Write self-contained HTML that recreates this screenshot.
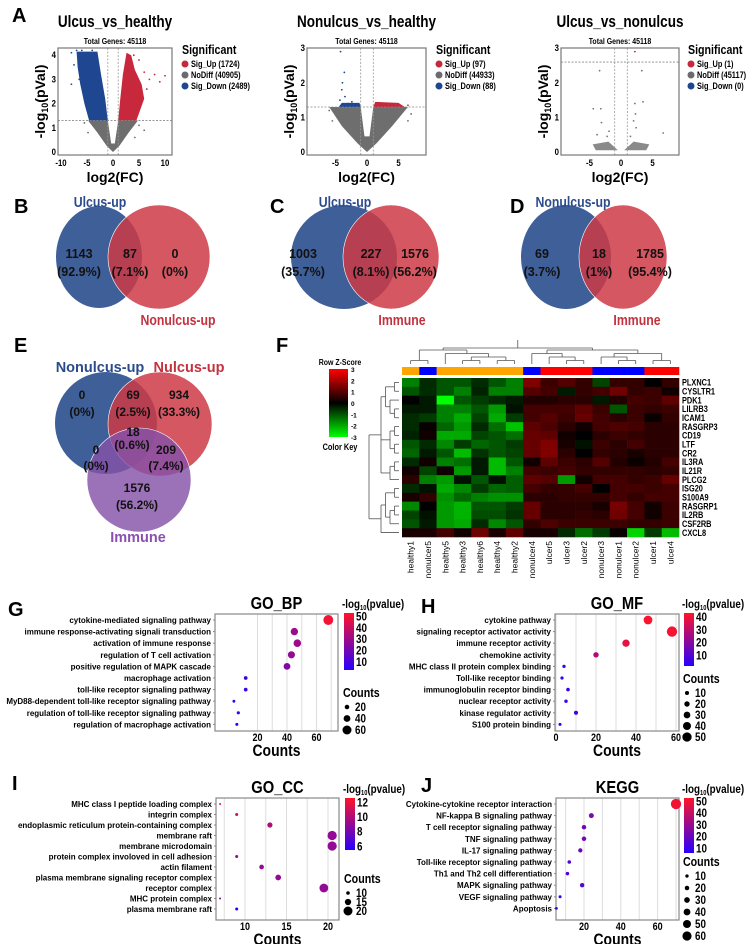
<!DOCTYPE html>
<html><head><meta charset="utf-8">
<style>
html,body{margin:0;padding:0;background:#fff;}
svg{display:block;font-family:"Liberation Sans",sans-serif;}
.b{font-weight:bold;}
.n{font-family:"Liberation Sans",sans-serif;font-weight:bold;}
</style></head>
<body>
<svg id="fig" width="751" height="944" viewBox="0 0 751 944" xmlns="http://www.w3.org/2000/svg">
<g class="b" font-size="20">
<text x="12" y="22">A</text>
<text x="14" y="213">B</text>
<text x="270" y="213">C</text>
<text x="510" y="213">D</text>
<text x="14" y="352">E</text>
<text x="276" y="352">F</text>
<text x="8" y="616">G</text>
<text x="421" y="613">H</text>
<text x="12" y="790">I</text>
<text x="421" y="792">J</text>
</g>

<g>
<ellipse cx="99" cy="257" rx="43" ry="51" fill="#3f5f98"/>
<ellipse cx="159" cy="257" rx="51" ry="52" fill="#cc3a45" fill-opacity="0.85" stroke="#fff" stroke-width="0.6"/>
<text x="100" y="207" text-anchor="middle" class="n" font-size="15" fill="#2b4b8c">Ulcus-up</text>
<text x="178" y="325" text-anchor="middle" class="n" font-size="15" fill="#c2323f">Nonulcus-up</text>
<g class="n" font-size="12.5" text-anchor="middle" fill="#111">
<text x="79" y="258">1143</text><text x="79" y="276">(92.9%)</text>
<text x="130" y="258">87</text><text x="130" y="276">(7.1%)</text>
<text x="175" y="258">0</text><text x="175" y="276">(0%)</text>
</g></g>

<g>
<ellipse cx="344" cy="257" rx="53" ry="52" fill="#3f5f98"/>
<ellipse cx="391" cy="257" rx="48" ry="52" fill="#cc3a45" fill-opacity="0.85" stroke="#fff" stroke-width="0.6"/>
<text x="345" y="207" text-anchor="middle" class="n" font-size="15" fill="#2b4b8c">Ulcus-up</text>
<text x="402" y="325" text-anchor="middle" class="n" font-size="15" fill="#c2323f">Immune</text>
<g class="n" font-size="12.5" text-anchor="middle" fill="#111">
<text x="303" y="258">1003</text><text x="303" y="276">(35.7%)</text>
<text x="371" y="258">227</text><text x="371" y="276">(8.1%)</text>
<text x="415" y="258">1576</text><text x="415" y="276">(56.2%)</text>
</g></g>

<g>
<ellipse cx="566" cy="257" rx="45" ry="52" fill="#3f5f98"/>
<ellipse cx="623" cy="257" rx="44" ry="52" fill="#cc3a45" fill-opacity="0.85" stroke="#fff" stroke-width="0.6"/>
<text x="573" y="207" text-anchor="middle" class="n" font-size="15" fill="#2b4b8c">Nonulcus-up</text>
<text x="637" y="325" text-anchor="middle" class="n" font-size="15" fill="#c2323f">Immune</text>
<g class="n" font-size="12.5" text-anchor="middle" fill="#111">
<text x="542" y="258">69</text><text x="542" y="276">(3.7%)</text>
<text x="599" y="258">18</text><text x="599" y="276">(1%)</text>
<text x="650" y="258">1785</text><text x="650" y="276">(95.4%)</text>
</g></g>

<g>
<circle cx="106" cy="423" r="51" fill="#3f5f98"/>
<circle cx="160" cy="424" r="52" fill="#cc3a45" fill-opacity="0.85" stroke="#fff" stroke-width="0.6"/>
<circle cx="139" cy="480" r="52" fill="#8552a8" fill-opacity="0.82" stroke="#fff" stroke-width="0.6"/>
<text x="100" y="372" text-anchor="middle" class="b" font-size="14.5" fill="#2b4b8c">Nonulcus-up</text>
<text x="189" y="372" text-anchor="middle" class="b" font-size="14.5" fill="#c2323f">Nulcus-up</text>
<text x="138" y="542" text-anchor="middle" class="b" font-size="14.5" fill="#8a4fb0">Immune</text>
<g class="b" font-size="12" text-anchor="middle" fill="#111">
<text x="82" y="399">0</text><text x="82" y="416">(0%)</text>
<text x="133" y="399">69</text><text x="133" y="416">(2.5%)</text>
<text x="179" y="399">934</text><text x="179" y="416">(33.3%)</text>
<text x="133" y="436">18</text><text x="132" y="449">(0.6%)</text>
<text x="166" y="454">209</text><text x="166" y="470">(7.4%)</text>
<text x="96" y="454">0</text><text x="96" y="470">(0%)</text>
<text x="137" y="492">1576</text><text x="137" y="509">(56.2%)</text>
</g></g>

<g id="volc"></g>
<g id="heat"></g>
<g id="dots"></g>
</svg>

<script>
const NS="http://www.w3.org/2000/svg";
function mk(parent,tag,attrs,txt){const e=document.createElementNS(NS,tag);for(const k in attrs)e.setAttribute(k,attrs[k]);if(txt!==undefined)e.textContent=txt;parent.appendChild(e);return e;}

/* ================= Volcano data ================= */
const volcTitles=["Ulcus_vs_healthy","Nonulcus_vs_healthy","Ulcus_vs_nonulcus"];
const volcLegendCounts=[["Sig_Up (1724)","NoDiff (40905)","Sig_Down (2489)"],["Sig_Up (97)","NoDiff (44933)","Sig_Down (88)"],["Sig_Up (1)","NoDiff (45117)","Sig_Down (0)"]];
const volcXTicks=[[-10,-5,0,5,10],[-5,0,5],[-5,0,5]];
const volcYTicks=[[0,1,2,3,4],[0,1,2,3],[0,1,2,3]];
const volcThreshold=[1.3,1.3,2.6];
const volc1Up=[[6,3.3],[8,3.2],[10,3.15],[5,3.8],[4,4.0],[7,3.0],[9,2.9],[6.5,2.6],[5.5,2.2]];
const volc1Down=[[-7,4.2],[-6,4.2],[-8,4.1],[-4,4.2],[-7.5,3.6],[-6.5,3.0],[-8,2.8]];
const volc1Gray=[[-5.5,1.2],[5,1.1],[6,0.9],[-4.8,0.8],[4.2,0.6]];
const volc2Down=[[-4.2,2.9],[-3.6,2.3],[-3.9,2.0],[-4,1.8],[-3.5,1.6],[-4.3,1.5],[-2.4,1.45],[-3,1.4]];
const volc2Up=[[3.2,1.4],[4.5,1.35],[6.5,1.35],[2.5,1.38],[5.5,1.32]];
const volc2Gray=[[-6,1.2],[7,1.1],[6.5,0.9],[-5.5,0.9]];
const volc3Up=[[2.2,2.9]];
const volc3Gray=[[-3.4,2.35],[3.3,2.35],[-4.4,1.25],[-3.2,1.25],[3.5,1.45],[2.2,1.4],[2.3,1.1],[2.0,0.9],[-3.1,0.85],[2.4,0.7],[6.7,0.55],[-1.9,0.6],[-2.2,0.45],[1.5,0.45],[-3.8,0.5]];

const volc=document.getElementById('volc');
const vcfg=[
 {L:58,R:172,T:48,B:155,x0:113,xs:5.2,y0:152,ys:24.2,lx:182},
 {L:307,R:426,T:48,B:155,x0:367,xs:6.3,y0:152,ys:34.6,lx:436},
 {L:561,R:679,T:48,B:155,x0:621,xs:6.3,y0:152,ys:34.6,lx:688}
];
function pts(pg,arr,X,Y,col){arr.forEach(p=>{const d=mk(pg,'circle',{cx:X(p[0]),cy:Y(p[1]),r:0.9,fill:col});
 
 });}
vcfg.forEach((c,i)=>{
 const g=mk(volc,'g',{});
 
 
 const X=v=>c.x0+v*c.xs, Y=v=>c.y0-v*c.ys;
 const t=mk(g,'text',{x:(c.L+c.R)/2,y:27,'text-anchor':'middle','font-size':16.5,class:'n'},volcTitles[i]);
 
 
 mk(g,'text',{x:(c.L+c.R)/2,y:44,'text-anchor':'middle','font-size':8.5,class:'n'},'Total Genes: 45118');
 const cp='clip'+i;const cl=mk(g,'clipPath',{id:cp});mk(cl,'rect',{x:c.L,y:c.T,width:c.R-c.L,height:c.B-c.T});
 const pg=mk(g,'g',{'clip-path':'url(#'+cp+')'});
 const th=volcThreshold[i];
 const P=a=>'M'+a.map(p=>X(p[0])+','+Y(p[1])).join(' L')+' Z';
 if(i===0){
  mk(pg,'path',{d:P([[-4.8,1.3],[-1,1.3],[-0.35,0.35],[0.35,0.35],[1,1.3],[4.8,1.3],[3,0.8],[1.2,0.25],[0,0],[-1.2,0.25],[-3,0.8]]),fill:'#6e6e6e'});
  mk(pg,'path',{d:P([[-1,1.3],[-1.5,2.2],[-2.3,3.2],[-3,4.15],[-7,4.15],[-6.8,3.5],[-6.3,2.8],[-5.5,2],[-4.6,1.3]]),fill:'#1f4690'});
  mk(pg,'path',{d:P([[1,1.3],[1.4,2.2],[1.9,3.2],[2.6,4.1],[3.5,4.0],[4.2,3.4],[5.5,2.8],[6,2.2],[4.5,1.3]]),fill:'#c8283c'});
  pts(pg,volc1Up,X,Y,'#c8283c');pts(pg,volc1Down,X,Y,'#1f4690');pts(pg,volc1Gray,X,Y,'#6e6e6e');
 } else if(i===1){
  mk(pg,'path',{d:P([[-6,1.3],[-1,1.3],[-0.4,0.45],[0.4,0.45],[1,1.3],[6.5,1.3],[4,0.75],[1.5,0.25],[0,0],[-1.5,0.25],[-4,0.75]]),fill:'#6e6e6e'});
  mk(pg,'path',{d:P([[-4.5,1.3],[-4,1.42],[-1.2,1.42],[-1,1.3]]),fill:'#1f4690'});
  mk(pg,'path',{d:P([[1,1.3],[1.3,1.45],[5,1.42],[6,1.3]]),fill:'#c8283c'});
  pts(pg,volc2Down,X,Y,'#1f4690');pts(pg,volc2Up,X,Y,'#c8283c');pts(pg,volc2Gray,X,Y,'#6e6e6e');
 } else {
  mk(pg,'path',{d:P([[-4.5,0.22],[-2,0.3],[-0.5,0.05],[0.5,0.05],[2,0.3],[4.5,0.22],[4,0.05],[-4,0.05]]),fill:'#8a8a8a'});
  pts(pg,volc3Gray,X,Y,'#777');pts(pg,volc3Up,X,Y,'#c8283c');
 }
 mk(g,'line',{x1:c.L,x2:c.R,y1:Y(th),y2:Y(th),stroke:'#888','stroke-dasharray':'2,1.5','stroke-width':0.8});
 [-1,1].forEach(v=>mk(g,'line',{x1:X(v),x2:X(v),y1:c.T,y2:c.B,stroke:'#999','stroke-dasharray':'2,1.5','stroke-width':0.8}));
 mk(g,'rect',{x:c.L,y:c.T,width:c.R-c.L,height:c.B-c.T,fill:'none',stroke:'#777','stroke-width':1.2});
 volcXTicks[i].forEach(v=>{const e=mk(g,'text',{x:X(v),y:166,'text-anchor':'middle','font-size':9.5,class:'n'},String(v));
  
  });
 volcYTicks[i].forEach(v=>{const e=mk(g,'text',{x:c.L-2,y:Y(v)+3,'text-anchor':'end','font-size':9.5,class:'n'},String(v));
  
  });
 const xl=mk(g,'text',{x:(c.L+c.R)/2,y:182,'text-anchor':'middle','font-size':14,class:'b'},'log2(FC)');
 
 
 const yl=mk(g,'text',{x:0,y:0,transform:`translate(${c.L-13},${(c.T+c.B)/2}) rotate(-90)`,'text-anchor':'middle','font-size':14,class:'b'});
 
 
 yl.innerHTML='-log<tspan font-size="9" dy="3">10</tspan><tspan dy="-3">(pVal)</tspan>';
 const lg=mk(g,'g',{});
 
 
 mk(lg,'text',{x:c.lx,y:54,'font-size':13,class:'n'},'Significant');
 const cols=['#c8283c','#6b6b6b','#1f4690'];
 volcLegendCounts[i].forEach((s,k)=>{const yy=64+k*11;
  const dot=mk(lg,'circle',{cx:c.lx+3,cy:yy,r:3.5,fill:cols[k]});
  
  
  const lt=mk(lg,'text',{x:c.lx+9,y:yy+3,'font-size':9,class:'n'},s);
  
  });
});

/* ================= Heatmap data ================= */
const hmGenes=["PLXNC1","CYSLTR1","PDK1","LILRB3","ICAM1","RASGRP3","CD19","LTF","CR2","IL3RA","IL21R","PLCG2","ISG20","S100A9","RASGRP1","IL2RB","CSF2RB","CXCL8"];
const hmSamples=["healthy1","nonulcer5","healthy5","healthy3","healthy6","healthy4","healthy2","nonulcer4","ulcer5","ulcer3","ulcer2","nonulcer3","nonulcer1","nonulcer2","ulcer1","ulcer4"];
const hmGroups=["healthy","nonulcer","healthy","healthy","healthy","healthy","healthy","nonulcer","ulcer","ulcer","ulcer","nonulcer","nonulcer","nonulcer","ulcer","ulcer"];
const hmValues=[
[-1.5,-0.5,-1,-1,-0.5,-1,-1.5,1.5,0.7,1,0.6,-0.8,0.6,0.6,0,0.6],
[-1,-0.5,-1,-1.5,-0.4,-1.5,-1.5,1,0.8,-0.3,0.6,0.8,1.3,0.6,0.7,0.2],
[0,-0.3,-3,-1,-0.7,-0.5,-0.3,0.4,0.4,0.5,0.5,-0.3,0.4,0.8,0.7,1.1],
[-0.3,-0.3,-1.5,-1.5,-1,-1.8,-0.2,0.8,0.8,0.8,1.1,0.7,-1,0.7,0.6,0.7],
[-0.5,-0.7,-1.5,-2,-0.8,-2,-0.7,0.8,1,0.7,1.2,0.8,0.5,0.7,0.1,0.6],
[-0.5,0.1,-1.2,-1.8,-0.5,-1.3,-2.3,1.1,0.9,0.5,0.2,0.8,0.9,0.8,0.5,0.5],
[-0.4,0.2,-2,-2,-0.8,-1,-1.3,1.2,1.1,0.2,0,0.5,0.7,0.6,0.5,0.5],
[-1,-0.5,-1.6,-0.7,-1.2,-1,-0.7,1.2,1.5,0.3,-0.2,0.7,0.5,0.8,0.5,0.5],
[-1.2,-0.3,-1,-2.2,-0.6,-1,-0.8,1.2,1.5,0.5,0,0.6,0.5,0.3,0.5,0.5],
[-0.5,0.2,-1.5,-1.3,-0.3,-2.2,-1,0.2,1.1,0.7,0.5,1,0.4,0.1,0.4,0.8],
[0.2,-0.8,0.2,-1.8,-0.3,-2.2,-1.5,0.8,0.7,0.8,0.6,0.6,0.6,0.6,0.5,0.6],
[0.5,-1.5,-1.8,-0.2,-1,-0.2,-1.1,1.1,1,-1.8,0.2,0.8,0.8,0.6,0.7,1.2],
[-0.5,-0.2,-2,-1.6,-0.7,-1.2,-1.1,0.8,0.6,0.6,0.8,0,0.8,0.8,0.7,0.8],
[0.3,0.6,-1.7,-1.2,-1.5,-1.7,-1.7,0.5,0.5,0.6,0.6,0.6,0.8,0.6,0.8,0.8],
[-1.6,0,-1.8,-2.1,-1,-1,-0.7,1.2,0.5,0.5,0.5,0.3,1.4,0.8,0.2,0.7],
[-0.8,-0.2,-1.8,-2.1,-0.9,-0.9,-0.6,1.2,0.5,0.5,0.6,0.5,1.3,0.8,0.2,0.7],
[-1,-0.3,-1.8,-2,-0.5,-1.6,-1,0.6,0.9,0.7,0.7,0.7,0.7,0.6,0.6,0.7],
[0.3,0.3,0.8,0.2,1.3,0.3,1.1,0.3,0.3,-0.5,-1.3,-0.7,0.1,-2.5,-0.7,-2.2]];
const hmKeyTicks=[3,2,1,0,-1,-2,-3];
const rowTree=[[[[0,1],[2,[3,4]]],[[5,6],[7,8]],[[9,10],11]],[[[12,13],[[14,15],16]],17]];
const colTree=[[[0,1],[2,[[3,4],[5,6]]]],[[7,[8,[9,10]]],[[11,[12,13]],[14,15]]]];

const heat=document.getElementById('heat');
const HL=402,HR=679,HT=378,HB=537;
const cw=(HR-HL)/hmSamples.length, rh=(HB-HT)/hmGenes.length;
function zcol(z){z=Math.max(-3,Math.min(3,z));const v=Math.round(Math.abs(z)/3*255);return z>=0?`rgb(${v},0,0)`:`rgb(0,${v},0)`;}
hmValues.forEach((row,r)=>row.forEach((z,c)=>{
 const e=mk(heat,'rect',{x:HL+c*cw,y:HT+r*rh,width:cw+0.3,height:rh+0.3,fill:zcol(z)});
 
 
}));
const grpCol={healthy:'#ffa500',nonulcer:'#0000ff',ulcer:'#ff0000'};
hmGroups.forEach((g,c)=>{const e=mk(heat,'rect',{x:HL+c*cw,y:367,width:cw+0.3,height:8,fill:grpCol[g]});
 
 });
hmGenes.forEach((g,r)=>{const e=mk(heat,'text',{x:HR+3,y:HT+(r+0.5)*rh+3.2,'font-size':9,class:'n'},g);
 
 });
hmSamples.forEach((s,c)=>{const x=HL+(c+0.5)*cw+3;const e=mk(heat,'text',{transform:`translate(${x},541) rotate(-90)`,'text-anchor':'end','font-size':8.5},s);
 
 });
function depth(t){return Array.isArray(t)?1+Math.max(...t.map(depth)):0;}
function drawTree(t,pos,hfun,orient){
 if(!Array.isArray(t))return {p:pos(t),h:hfun(0)};
 const ch=t.map(x=>drawTree(x,pos,hfun,orient));const h=hfun(depth(t));
 const ps=ch.map(c=>c.p);const pmin=Math.min(...ps),pmax=Math.max(...ps);
 ch.forEach(c=>{ if(orient==='v')mk(heat,'line',{x1:c.p,x2:c.p,y1:c.h,y2:h,stroke:'#555','stroke-width':0.8}); else mk(heat,'line',{y1:c.p,y2:c.p,x1:c.h,x2:h,stroke:'#555','stroke-width':0.8});});
 if(orient==='v')mk(heat,'line',{x1:pmin,x2:pmax,y1:h,y2:h,stroke:'#555','stroke-width':0.8}); else mk(heat,'line',{y1:pmin,y2:pmax,x1:h,x2:h,stroke:'#555','stroke-width':0.8});
 return {p:(pmin+pmax)/2,h:h};
}
const cd=depth(colTree);
const rootC=drawTree(colTree,i=>HL+(i+0.5)*cw,d=>d===cd?348:364-d*3.5,'v');
mk(heat,'line',{x1:rootC.p,x2:rootC.p,y1:340,y2:348,stroke:'#555','stroke-width':0.8});
const rd=depth(rowTree);
drawTree(rowTree,i=>HT+(i+0.5)*rh,d=>d===rd?369:399-d*4.5,'h');
const defs=mk(heat,'defs',{});const lgd=mk(defs,'linearGradient',{id:'zk',x1:0,y1:0,x2:0,y2:1});
mk(lgd,'stop',{offset:'0','stop-color':'#ff0000'});mk(lgd,'stop',{offset:'0.5','stop-color':'#000'});mk(lgd,'stop',{offset:'1','stop-color':'#00ff00'});
const ck=mk(heat,'rect',{x:329,y:369,width:19,height:68,fill:'url(#zk)'});


mk(heat,'text',{x:340,y:365,'text-anchor':'middle','font-size':8.5,class:'n'},'Row Z-Score');
mk(heat,'text',{x:340,y:450,'text-anchor':'middle','font-size':9,class:'n'},'Color Key');
hmKeyTicks.forEach(v=>{const y=369+(3-v)/6*68;const e=mk(heat,'text',{x:351,y:y+3,'font-size':6.5,class:'b'},String(v));
 
 });

/* ================= Enrichment dot plots ================= */
const bpTerms=["cytokine-mediated signaling pathway","immune response-activating signali transduction","activation of immune response","regulation of T cell activation","positive regulation of MAPK cascade","macrophage activation","toll-like receptor signaling pathway","MyD88-dependent toll-like receptor signaling pathway","regulation of toll-like receptor signaling pathway","regulation of macrophage activation"];
const bpCounts=[68,45,47,43,40,12,12,4,7,6];
const bpPval=[50,30,30,28,24,8,8,5,7,6];
const mfTerms=["cytokine pathway","signaling receptor activator activity","immune receptor activity","chemokine activity","MHC class II protein complex binding","Toll-like receptor binding","immunoglobulin receptor binding","nuclear receptor activity","kinase regulator activity","S100 protein binding"];
const mfCounts=[46,58,35,20,4,3,6,5,10,2];
const mfPval=[42,41,38,28,5,4,5,5,7,4];
const ccTerms=["MHC class I peptide loading complex","integrin complex","endoplasmic reticulum protein-containing complex","membrane raft","membrane microdomain","protein complex involoved in cell adhesion","actin filament","plasma membrane signaling receptor complex","receptor complex","MHC protein complex","plasma membrane raft"];
const ccCounts=[7,9,13,20.5,20.5,9,12,14,19.5,7,9];
const ccPval=[12,11,10,9,9,9,9,9,9,8.5,5.5];
const keggTerms=["Cytokine-cytokine receptor interaction","NF-kappa B signaling pathway","T cell receptor signaling pathway","TNF signaling pathway","IL-17 signaling pathway","Toll-like receptor signaling pathway","Th1 and Th2 cell differentiation","MAPK signaling pathway","VEGF signaling pathway","Apoptosis"];
const keggCounts=[70,24,20,20,18,12,11,19,7,5];
const keggPval=[50,25,22,22,20,15,14,15,10,8];
const bpXTicks=[20,40,60], mfXTicks=[0,20,40,60], ccXTicks=[10,15,20], keggXTicks=[20,40,60];
const bpColTicks=[50,40,30,20,10], mfColTicks=[40,30,20,10], ccColTicks=[12,10,8,6], keggColTicks=[50,40,30,20,10];
const bpSizeTicks=[20,40,60], mfSizeTicks=[10,20,30,40,50], ccSizeTicks=[10,15,20], keggSizeTicks=[10,20,30,40,50,60];

const dots=document.getElementById('dots');
function pcol(t){t=Math.max(0,Math.min(1,t));const r=Math.round(40+215*t),b=Math.round(255-215*t);return `rgb(${r},${Math.round(20*t)},${b})`;}
function dotPlot(o){
 const g=mk(dots,'g',{});
 
 
 const X=v=>o.x0+(v-o.v0)*o.xs;
 const Y=i=>o.r0+i*o.rs;
 const C=v=>pcol((v-o.cmin)/(o.cmax-o.cmin));
 const R=c=>Math.max(1,o.ra+c*o.rb);
 const tt=mk(g,'text',{x:(o.L+o.R)/2,y:o.T-5,'text-anchor':'middle','font-size':18,class:'n'},o.title);
 
 
 o.xticks.forEach(v=>{mk(g,'line',{x1:X(v),x2:X(v),y1:o.T,y2:o.B,stroke:'#ddd','stroke-width':1});
  const e=mk(g,'text',{x:X(v),y:o.B+10,'text-anchor':'middle','font-size':11,class:'n'},String(v));
  
  });
 if(o.midlines)o.midlines.forEach(v=>mk(g,'line',{x1:X(v),x2:X(v),y1:o.T,y2:o.B,stroke:'#ddd','stroke-width':1}));
 mk(g,'rect',{x:o.L,y:o.T,width:o.R-o.L,height:o.B-o.T,fill:'none',stroke:'#888','stroke-width':1.2});
 o.terms.forEach((t,i)=>{const e=mk(g,'text',{x:o.L-4,y:Y(i)+3,'text-anchor':'end','font-size':8.6,class:'n',sx:'0.93'},t);
  
  
  mk(g,'line',{x1:o.L-2,x2:o.L,y1:Y(i),y2:Y(i),stroke:'#888'});});
 o.counts.forEach((c,i)=>{const d=mk(g,'circle',{cx:X(c),cy:Y(i),r:R(c),fill:C(o.pvals[i])});
  
  });
 const xt=mk(g,'text',{x:(o.L+o.R)/2,y:o.B+25,'text-anchor':'middle','font-size':17,class:'n'},'Counts');
 
 
 const gid='cg'+o.name;const gd=mk(g,'linearGradient',{id:gid,x1:0,y1:0,x2:0,y2:1});
 mk(gd,'stop',{offset:0,'stop-color':pcol(1)});mk(gd,'stop',{offset:1,'stop-color':pcol(0)});
 const cb=mk(g,'rect',{x:o.cbx,y:o.cbT,width:10,height:o.cbB-o.cbT,fill:`url(#${gid})`});
 
 
 const CY=v=>o.cbT+(o.cmax-v)/(o.cmax-o.cmin)*(o.cbB-o.cbT);
 o.colTicks.forEach(v=>{const e=mk(g,'text',{x:o.cbx+12,y:CY(v)+4,'font-size':12,class:'n'},String(v));
  
  });
 const lt=mk(g,'text',{x:o.cbx-2,y:o.cbT-5,'font-size':12,class:'n'});
 lt.innerHTML='-log<tspan font-size="7" dy="2">10</tspan><tspan dy="-2">(pvalue)</tspan>';
 
 
 mk(g,'text',{x:o.cbx-1,y:o.sT,'font-size':13,class:'n'},'Counts');
 o.sizeTicks.forEach((v,k)=>{const y=o.sT+10+k*o.sStep;
  const d=mk(g,'circle',{cx:o.cbx+3,cy:y,r:R(v),fill:'#000'});
  
  
  const e=mk(g,'text',{x:o.cbx+11,y:y+4,'font-size':12,class:'n'},String(v));
  
  });
}
dotPlot({name:'go-bp-chart',title:'GO_BP',terms:bpTerms,counts:bpCounts,pvals:bpPval,L:215,R:338,T:614,B:731,x0:228,v0:0,xs:1.475,r0:620,rs:11.6,
 xticks:bpXTicks,midlines:[30,50,70],cmin:3,cmax:53,cbx:344,cbT:613,cbB:670,colTicks:bpColTicks,ra:1.2,rb:0.055,sizeTicks:bpSizeTicks,sT:697,sStep:11.5});
dotPlot({name:'go-mf-chart',title:'GO_MF',terms:mfTerms,counts:mfCounts,pvals:mfPval,L:555,R:679,T:614,B:731,x0:556,v0:0,xs:2.0,r0:620,rs:11.6,
 xticks:mfXTicks,midlines:[10,30,50],cmin:2,cmax:43,cbx:684,cbT:613,cbB:666,colTicks:mfColTicks,ra:1.4,rb:0.065,sizeTicks:mfSizeTicks,sT:683,sStep:11});
dotPlot({name:'go-cc-chart',title:'GO_CC',terms:ccTerms,counts:ccCounts,pvals:ccPval,L:216,R:339,T:798,B:920,x0:245,v0:10,xs:8.3,r0:804,rs:10.5,
 xticks:ccXTicks,midlines:[7.5,12.5,17.5],cmin:5.5,cmax:12.6,cbx:345,cbT:798,cbB:850,colTicks:ccColTicks,ra:-0.9,rb:0.27,sizeTicks:ccSizeTicks,sT:883,sStep:9});
dotPlot({name:'kegg-chart',title:'KEGG',terms:keggTerms,counts:keggCounts,pvals:keggPval,L:556,R:679,T:798,B:920,x0:584,v0:20,xs:1.84,r0:804,rs:11.6,
 xticks:keggXTicks,midlines:[10,30,50,70],cmin:6,cmax:53,cbx:684,cbT:798,cbB:853,colTicks:keggColTicks,ra:1.1,rb:0.058,sizeTicks:keggSizeTicks,sT:866,sStep:12});

document.querySelectorAll('text.n').forEach(t=>{
 if(t.hasAttribute('transform'))return;
 const x=parseFloat(t.getAttribute('x')||0),y=parseFloat(t.getAttribute('y')||0);
 const s=t.getAttribute('sx')||'0.82';t.removeAttribute('sx');
 t.setAttribute('transform',`translate(${x} ${y}) scale(${s} 1) translate(${-x} ${-y})`);
});
</script>
</body></html>
